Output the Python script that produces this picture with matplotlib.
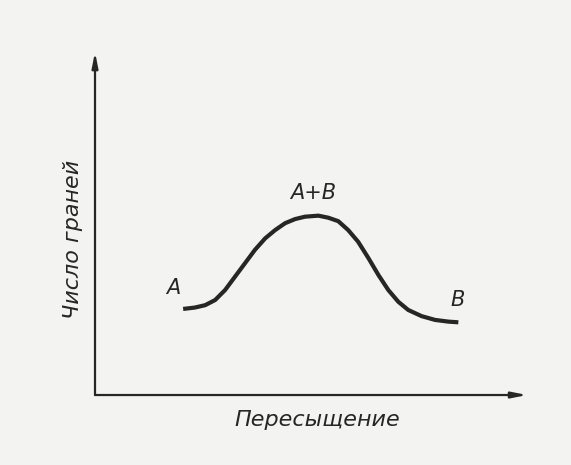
import matplotlib
matplotlib.use("Agg")
import matplotlib.pyplot as plt

# Curve values (arbitrary units: supersaturation vs number of faces)
supersat = [2.04, 2.31, 2.55, 2.78, 3.01, 3.24, 3.47, 3.70, 3.94, 4.17, 4.40, 4.63, 4.86,
            5.17, 5.40, 5.63, 5.86, 6.09, 6.33, 6.56, 6.79, 7.02, 7.25, 7.56, 7.87, 8.18, 8.41]
faces = [2.51, 2.55, 2.62, 2.77, 3.06, 3.45, 3.84, 4.23, 4.57, 4.81, 5.01, 5.13, 5.20,
         5.23, 5.17, 5.07, 4.81, 4.47, 3.99, 3.50, 3.06, 2.72, 2.48, 2.30, 2.19, 2.14, 2.12]

labels = ["A", "A+B", "B"]
label_x = [1.81, 5.05, 8.40]
label_y = [3.12, 5.89, 2.77]

x_title = "Пересыщение"
y_title = "Число граней"

ink = "#262626"
paper = "#f3f3f1"

fig = plt.figure(figsize=(5.71, 4.65), dpi=100, facecolor=paper)
ax = fig.add_axes([0.1664, 0.1505, 0.7566, 0.7375])
ax.set_facecolor(paper)
ax.set_xlim(0, 10)
ax.set_ylim(0, 10)
for s in ax.spines.values():
    s.set_visible(False)
ax.set_xticks([])
ax.set_yticks([])

arrow = dict(arrowstyle="-|>,head_length=0.9,head_width=0.18", color=ink, lw=1.6,
             shrinkA=0, shrinkB=0)
ax.annotate("", xy=(1, 0), xytext=(0, 0), xycoords="axes fraction",
            textcoords="axes fraction", arrowprops=arrow, annotation_clip=False)
ax.annotate("", xy=(0, 1), xytext=(0, 0), xycoords="axes fraction",
            textcoords="axes fraction", arrowprops=arrow, annotation_clip=False)

ax.plot(supersat, faces, color=ink, lw=3.0, solid_capstyle="butt", solid_joinstyle="round")

for t, x, y in zip(labels, label_x, label_y):
    ax.text(x, y, t, ha="center", va="center", fontsize=15, style="italic",
            color=ink, family="DejaVu Sans")

ax.text(5.14, -0.73, x_title, ha="center", va="center", fontsize=16, style="italic",
        color=ink, family="DejaVu Sans", clip_on=False)
ax.text(-0.51, 4.55, y_title, ha="center", va="center", fontsize=16, style="italic",
        rotation=90, color=ink, family="DejaVu Sans", clip_on=False)

fig.savefig("out.png", dpi=100, facecolor=paper)
